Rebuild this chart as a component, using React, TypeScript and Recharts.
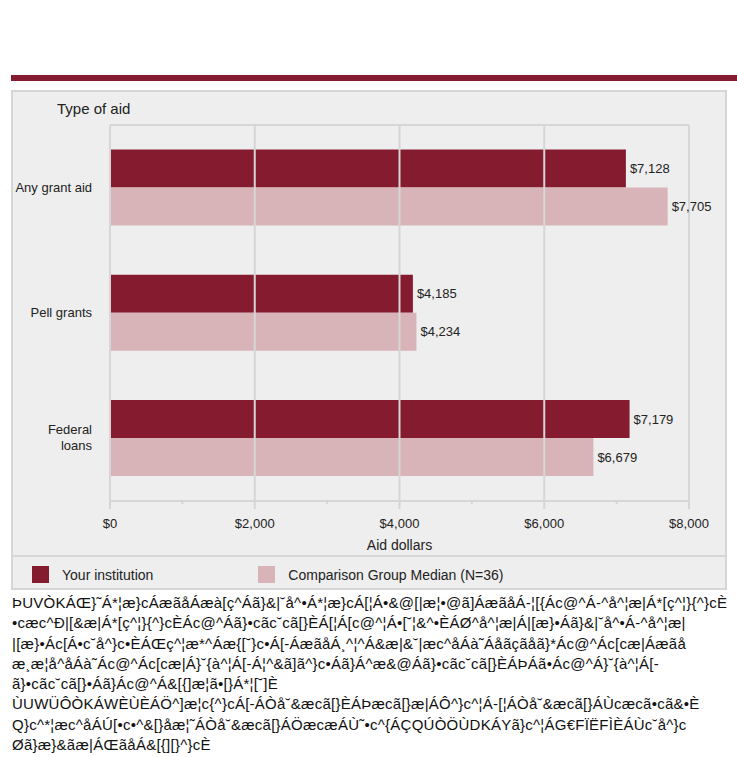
import React from "react";
import { BarChart, Bar, XAxis, YAxis, CartesianGrid, LabelList, ReferenceLine } from "recharts";

const categories = ["Any grant aid", "Pell grants", "Federal loans"];
const yourInstitution = [7128, 4185, 7179];
const comparisonMedian = [7705, 4234, 6679];
const xTicks = [0, 1000, 2000, 3000, 4000, 5000, 6000, 7000, 8000];
const gridTicks = [2000, 4000, 6000, 8000];
const seriesNames = ["Your institution", "Comparison Group Median (N=36)"];
const seriesColors = ["#851b2e", "#d8b3b8"];

// footnote as it shows up in the picture (font glyph mapping broke on export)
const noteLines = [
  "ÞUVÒKÁŒ}˜Á*¦æ}cÁæãåÁæà[ç^Áã}&|˘å^•Á*¦æ}cÁ[¦Á•&@[|æ¦•@ã]ÁæãåÁ-¦[{Ác@^Á-^å^¦æ|Á*[ç^¦}{^}cÈ",
  "•cæc^Ð|[&æ|Á*[ç^¦}{^}cÈÁc@^Áã}•cãc˘cã[}ÈÁ[¦Á[c@^¦Á•[˘¦&^•ÈÁØ^å^¦æ|Á|[æ}•Áã}&|˘å^•Á-^å^¦æ|",
  "|[æ}•Ác[Á•c˘å^}c•ÈÁŒç^¦æ*^Áæ{[˘}c•Á[-ÁæãåÁ¸^¦^Á&æ|&˘|æc^åÁà˜Áåãçãåã}*Ác@^Ác[cæ|Áæãå",
  "æ¸æ¦å^åÁà˜Ác@^Ác[cæ|Á}˘{à^¦Á[-Á¦^&ã]ã^}c•Áã}Á^æ&@Áã}•cãc˘cã[}ÈÁÞÁã•Ác@^Á}˘{à^¦Á[-",
  "ã}•cãc˘cã[}•Áã}Ác@^Á&[{]æ¦ã•[}Á*¦[˘]È",
  "ÙUWÜÔÒKÁWÈÙÈÁÖ^]æ¦c{^}cÁ[-ÁÒå˘&æcã[}ÈÁÞæcã[}æ|ÁÔ^}c^¦Á-[¦ÁÒå˘&æcã[}ÁÙcæcã•cã&•È",
  "Q}c^*¦æc^åÁÚ[•c•^&[}åæ¦˜ÁÒå˘&æcã[}ÁÖæcæÁÙ˜•c^{ÁÇQÚÒÖÙDKÁYã}c^¦ÁG€FÏËFÌÈÁÙc˘å^}c",
  "Øã}æ}&ãæ|ÁŒãåÁ&[{][}^}cÈ",
];

const data = categories.map((c, i) => ({
  name: c,
  yours: yourInstitution[i],
  median: comparisonMedian[i],
}));

const FONT = '"Liberation Sans", Arial, sans-serif';
const GRID = "#d6d6d6";
const fmt = (v: any) => "$" + Number(v).toLocaleString("en-US");

function CategoryTick(props: any) {
  const { x, y, payload } = props;
  const words: string[] = payload.value === "Federal loans" ? ["Federal", "loans"] : [payload.value];
  const startDy = -((words.length - 1) * 16) / 2;
  return (
    <text x={x - 10} y={y} textAnchor="end" fontSize={13} fill="#222" fontFamily={FONT}>
      {words.map((w, i) => (
        <tspan key={i} x={x - 10} dy={i === 0 ? startDy + 4 : 16}>
          {w}
        </tspan>
      ))}
    </text>
  );
}

function MoneyTick(props: any) {
  const { x, y, payload } = props;
  const major = payload.value % 2000 === 0;
  return (
    <g>
      <line x1={x} x2={x} y1={y} y2={y + (major ? 8 : 3)} stroke={GRID} strokeWidth={2} />
      {major && (
        <text x={x} y={y + 27} textAnchor="middle" fontSize={13} fill="#222" fontFamily={FONT}>
          {fmt(payload.value)}
        </text>
      )}
    </g>
  );
}

export default function App() {
  return (
    <div style={{ position: "absolute", left: 0, top: 0, width: 737, height: 757, background: "#fff", fontFamily: FONT }}>
      <div style={{ position: "absolute", left: 11, top: 75, width: 726, height: 6, background: "#851b2e" }} />
      <div
        style={{
          position: "absolute",
          left: 11,
          top: 90,
          width: 712,
          height: 496,
          background: "#eeeeee",
          border: "2px solid " + GRID,
        }}
      />
      <div style={{ position: "absolute", left: 13, top: 555, width: 712, height: 2, background: GRID }} />
      <div style={{ position: "absolute", left: 57, top: 100, fontSize: 15, color: "#222" }}>Type of aid</div>

      <div style={{ position: "absolute", left: 11, top: 90 }}>
        <BarChart
          width={716}
          height={465}
          data={data}
          layout="vertical"
          margin={{ top: 35, right: 38, bottom: 0, left: 0 }}
          barCategoryGap="19.5%"
          barGap={0}
        >
          <CartesianGrid
            stroke={GRID}
            strokeWidth={2}
            vertical={false}
            horizontalCoordinatesGenerator={({ offset }: any) => [offset.top]}
          />
          {gridTicks.map((v) => (
            <ReferenceLine key={v} x={v} stroke={GRID} strokeWidth={2} />
          ))}
          <XAxis
            type="number"
            domain={[0, 8000]}
            ticks={xTicks}
            interval={0}
            tick={<MoneyTick />}
            tickLine={false}
            tickSize={0}
            tickMargin={0}
            stroke={GRID}
            strokeWidth={2}
            height={54}
            label={{ value: "Aid dollars", position: "insideBottom", offset: 5, fontSize: 14, fill: "#222" }}
          />
          <YAxis
            type="category"
            dataKey="name"
            width={99}
            tick={<CategoryTick />}
            tickLine={false}
            stroke={GRID}
            strokeWidth={2}
          />
          <Bar dataKey="yours" fill={seriesColors[0]} isAnimationActive={false}>
            <LabelList dataKey="yours" position="right" offset={4} formatter={fmt} fontSize={13} fill="#222" />
          </Bar>
          <Bar dataKey="median" fill={seriesColors[1]} isAnimationActive={false}>
            <LabelList dataKey="median" position="right" offset={4} formatter={fmt} fontSize={13} fill="#222" />
          </Bar>
        </BarChart>
      </div>

      <div style={{ position: "absolute", left: 32, top: 566, display: "flex", alignItems: "center", fontSize: 14, color: "#222" }}>
        {seriesNames.map((n, i) => (
          <div key={n} style={{ display: "flex", alignItems: "center", marginRight: i === 0 ? 105 : 0 }}>
            <div style={{ width: 17, height: 17, background: seriesColors[i], marginRight: 13 }} />
            <span>{n}</span>
          </div>
        ))}
      </div>

      <div
        style={{
          position: "absolute",
          left: 12,
          top: 593,
          fontFamily: '"Liberation Sans Narrow", "Arial Narrow", "Liberation Sans", sans-serif',
          fontSize: 15,
          lineHeight: "20.3px",
          letterSpacing: "0.25px",
          color: "#111",
          whiteSpace: "pre",
        }}
      >
        {noteLines.map((l, i) => (
          <div key={i}>{l}</div>
        ))}
      </div>
    </div>
  );
}
